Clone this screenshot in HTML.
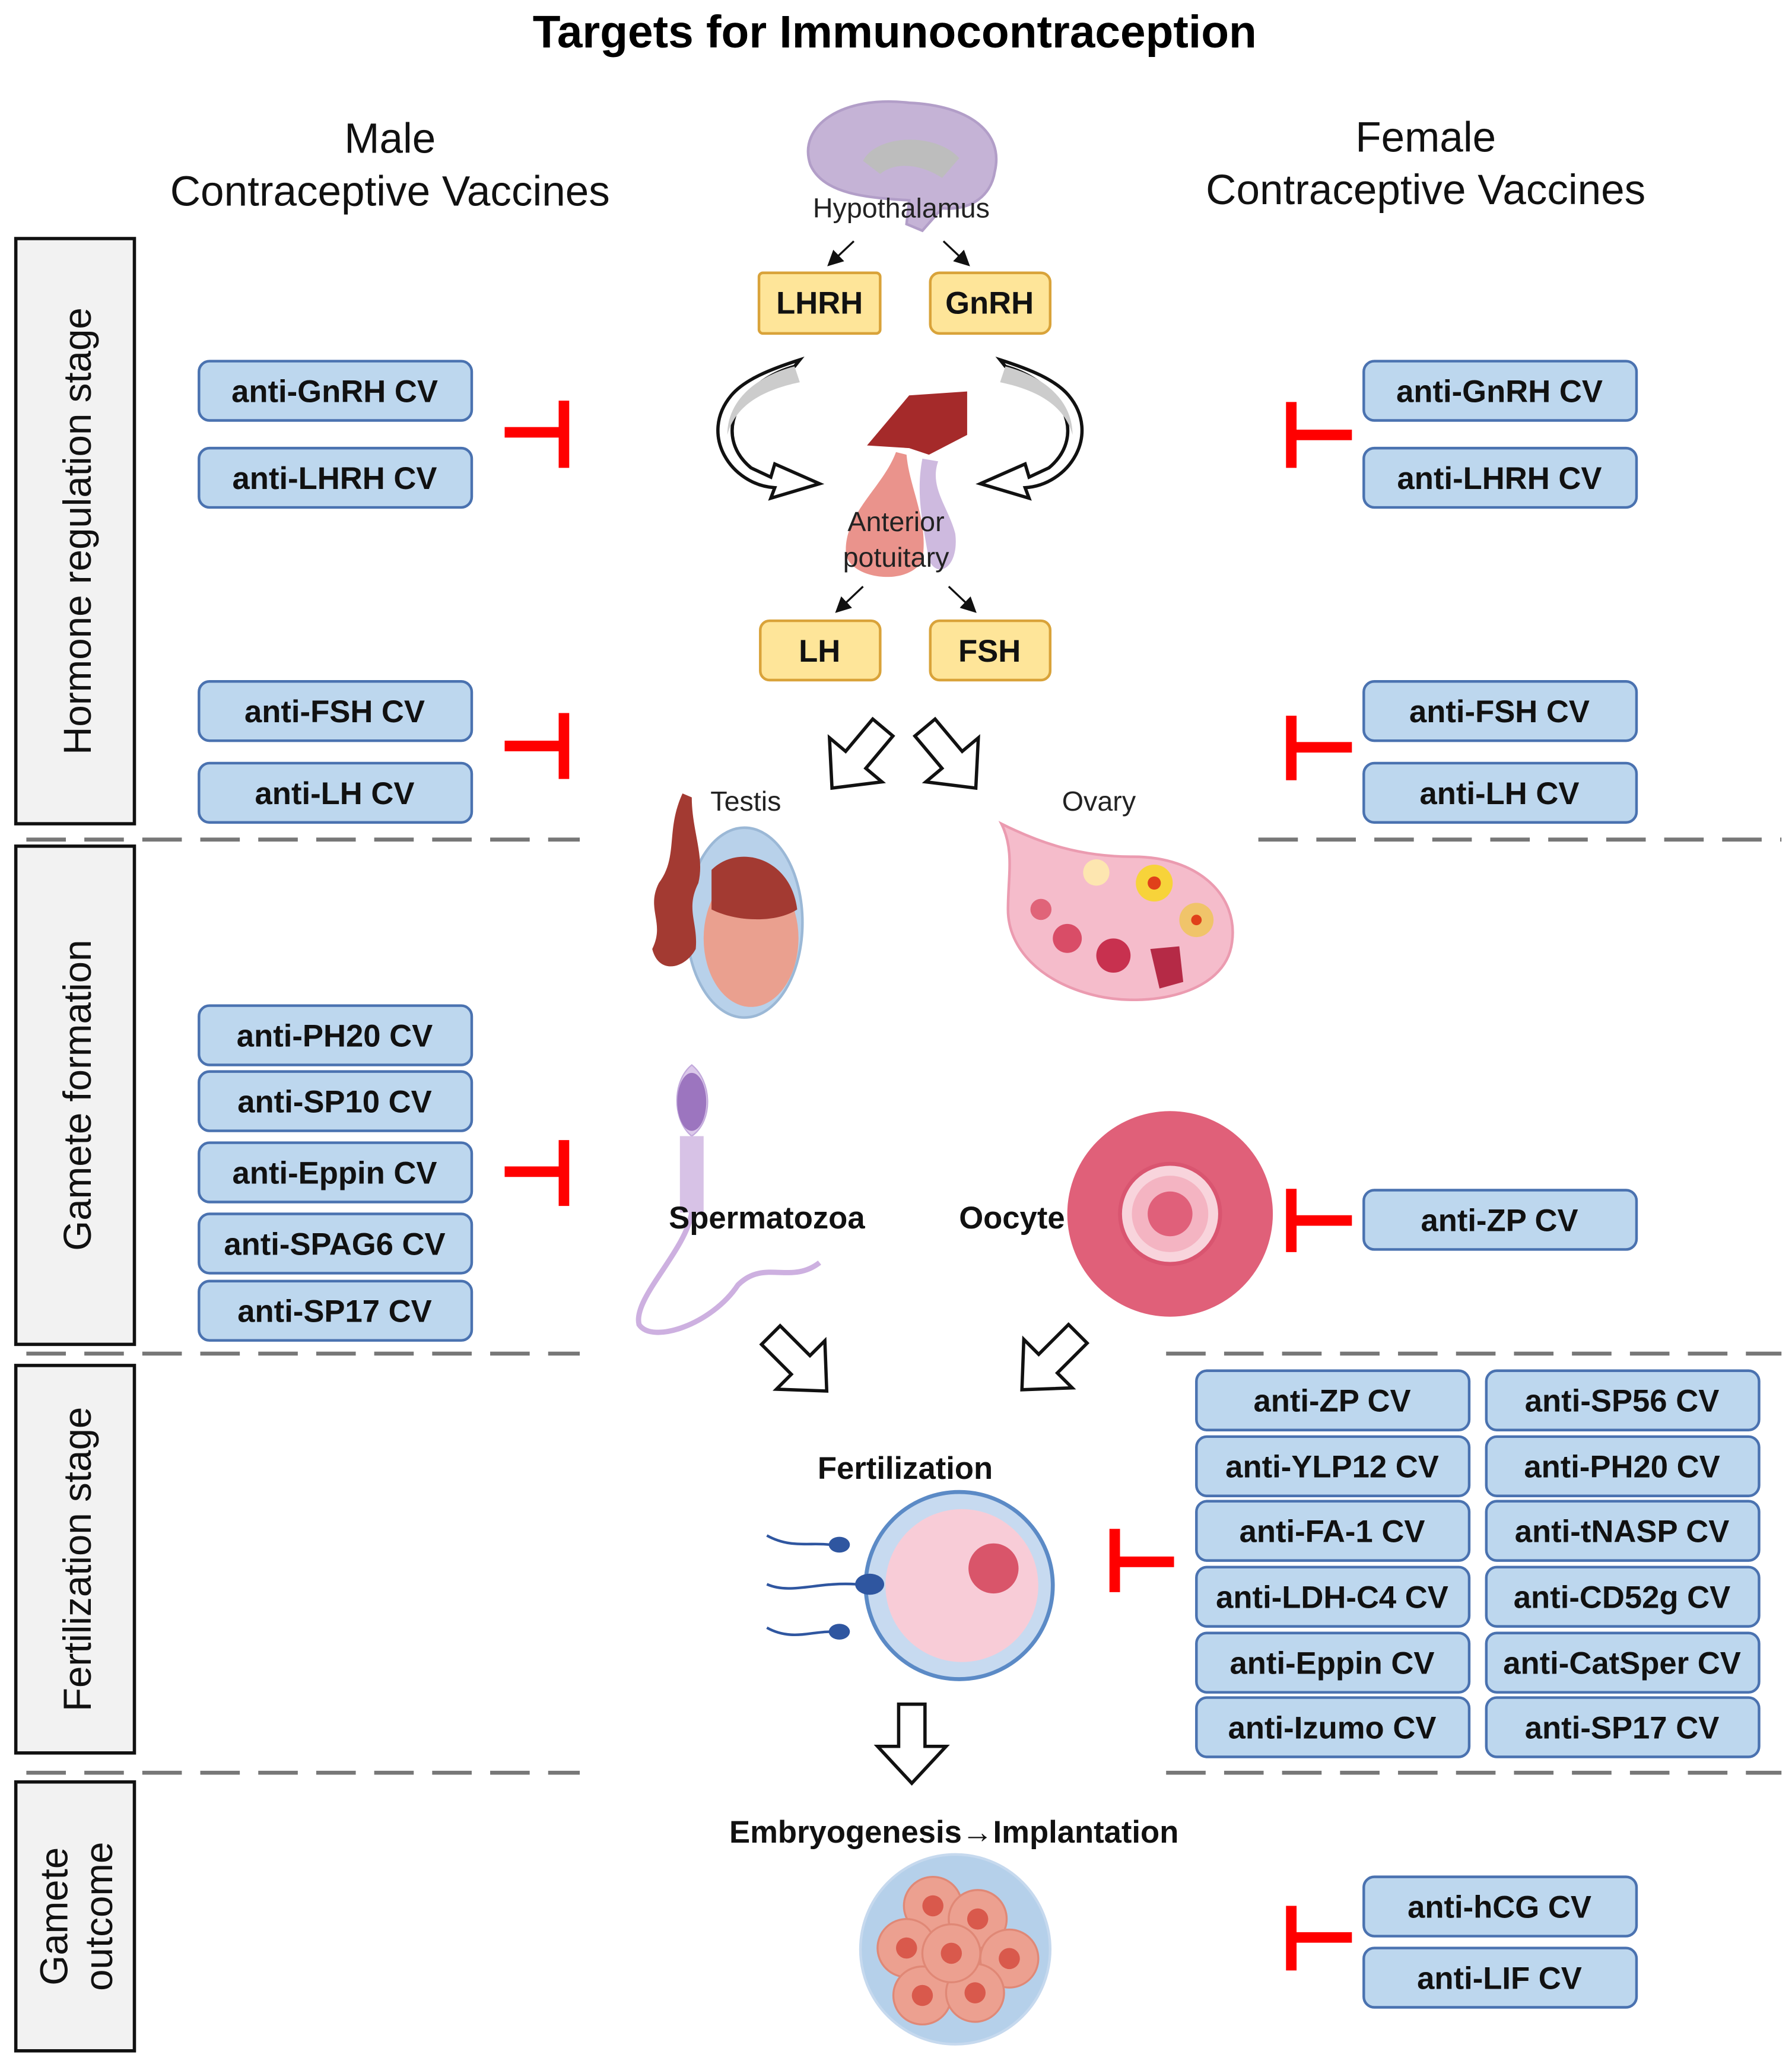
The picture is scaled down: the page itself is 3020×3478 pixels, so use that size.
<!DOCTYPE html>
<html><head><meta charset="utf-8"><style>
html,body{margin:0;padding:0;background:#fff;}
svg{display:block;}
text{font-family:"Liberation Sans",Arial,sans-serif;}
.b{font-weight:bold;font-size:23.7px;text-anchor:middle;fill:#111;}
.bx{fill:#bdd7ee;stroke:#4a72b0;stroke-width:2;}
.yb{fill:#fee599;stroke:#d9a33a;stroke-width:2;}
.st{fill:#f2f2f2;stroke:#111;stroke-width:2.5;}
.dash{stroke:#777;stroke-width:3;stroke-dasharray:30 14;}
.red{stroke:#f00;stroke-width:8;fill:none;}
.ba{fill:#fff;stroke:#111;stroke-width:2.5;stroke-linejoin:miter;}
.lbl{font-size:21px;text-anchor:middle;fill:#222;}
.sl{font-size:29.5px;text-anchor:middle;fill:#111;}
</style></head><body>
<svg width="3020" height="3478" viewBox="0 0 1360 1566" preserveAspectRatio="none" xmlns="http://www.w3.org/2000/svg">
<defs>
<marker id="ah" markerWidth="8" markerHeight="8" refX="6" refY="4" orient="auto"><path d="M0,0 L8,4 L0,8 z" fill="#111"/></marker>
<path id="barr" d="M-10,0 L10,0 L10,32 L26,32 L0,60 L-26,32 L-10,32 Z"/>
</defs>
<text x="679" y="36" style="font-size:34.5px;font-weight:bold;text-anchor:middle">Targets for Immunocontraception</text>
<text x="296" y="116" class="sl" style="font-size:32px">Male</text>
<text x="296" y="156" class="sl" style="font-size:32px">Contraceptive Vaccines</text>
<text x="1082" y="115" class="sl" style="font-size:32px">Female</text>
<text x="1082" y="155" class="sl" style="font-size:32px">Contraceptive Vaccines</text>

<rect class="st" x="12" y="181" width="90" height="444"/>
<text class="sl" transform="translate(69,403) rotate(-90)">Hormone regulation stage</text>
<rect class="st" x="12" y="642" width="90" height="378"/>
<text class="sl" transform="translate(69,831) rotate(-90)">Gamete formation</text>
<rect class="st" x="12" y="1036" width="90" height="294"/>
<text class="sl" transform="translate(69,1183) rotate(-90)">Fertilization stage</text>
<rect class="st" x="12" y="1352" width="90" height="204"/>
<text class="sl" transform="translate(51,1454) rotate(-90)">Gamete</text>
<text class="sl" transform="translate(85,1454) rotate(-90)">outcome</text>

<line class="dash" x1="20" y1="637" x2="440" y2="637"/><line class="dash" x1="955" y1="637" x2="1352" y2="637"/>
<line class="dash" x1="20" y1="1027" x2="440" y2="1027"/><line class="dash" x1="885" y1="1027" x2="1352" y2="1027"/>
<line class="dash" x1="20" y1="1345" x2="440" y2="1345"/><line class="dash" x1="885" y1="1345" x2="1352" y2="1345"/>

<g>
<rect class="bx" x="151" y="274" width="207" height="45" rx="8"/><text class="b" x="254" y="305">anti-GnRH CV</text>
<rect class="bx" x="151" y="340" width="207" height="45" rx="8"/><text class="b" x="254" y="371">anti-LHRH CV</text>
<rect class="bx" x="151" y="517" width="207" height="45" rx="8"/><text class="b" x="254" y="548">anti-FSH CV</text>
<rect class="bx" x="151" y="579" width="207" height="45" rx="8"/><text class="b" x="254" y="610">anti-LH CV</text>
<rect class="bx" x="151" y="763" width="207" height="45" rx="8"/><text class="b" x="254" y="794">anti-PH20 CV</text>
<rect class="bx" x="151" y="813" width="207" height="45" rx="8"/><text class="b" x="254" y="844">anti-SP10 CV</text>
<rect class="bx" x="151" y="867" width="207" height="45" rx="8"/><text class="b" x="254" y="898">anti-Eppin CV</text>
<rect class="bx" x="151" y="921" width="207" height="45" rx="8"/><text class="b" x="254" y="952">anti-SPAG6 CV</text>
<rect class="bx" x="151" y="972" width="207" height="45" rx="8"/><text class="b" x="254" y="1003">anti-SP17 CV</text>
</g>
<g>
<rect class="bx" x="1035" y="274" width="207" height="45" rx="8"/><text class="b" x="1138" y="305">anti-GnRH CV</text>
<rect class="bx" x="1035" y="340" width="207" height="45" rx="8"/><text class="b" x="1138" y="371">anti-LHRH CV</text>
<rect class="bx" x="1035" y="517" width="207" height="45" rx="8"/><text class="b" x="1138" y="548">anti-FSH CV</text>
<rect class="bx" x="1035" y="579" width="207" height="45" rx="8"/><text class="b" x="1138" y="610">anti-LH CV</text>
<rect class="bx" x="1035" y="903" width="207" height="45" rx="8"/><text class="b" x="1138" y="934">anti-ZP CV</text>
<rect class="bx" x="1035" y="1424" width="207" height="45" rx="8"/><text class="b" x="1138" y="1455">anti-hCG CV</text>
<rect class="bx" x="1035" y="1478" width="207" height="45" rx="8"/><text class="b" x="1138" y="1509">anti-LIF CV</text>
</g>
<g>
<rect class="bx" x="908" y="1040" width="207" height="45" rx="8"/><text class="b" x="1011" y="1071">anti-ZP CV</text>
<rect class="bx" x="908" y="1090" width="207" height="45" rx="8"/><text class="b" x="1011" y="1121">anti-YLP12 CV</text>
<rect class="bx" x="908" y="1139" width="207" height="45" rx="8"/><text class="b" x="1011" y="1170">anti-FA-1 CV</text>
<rect class="bx" x="908" y="1189" width="207" height="45" rx="8"/><text class="b" x="1011" y="1220">anti-LDH-C4 CV</text>
<rect class="bx" x="908" y="1239" width="207" height="45" rx="8"/><text class="b" x="1011" y="1270">anti-Eppin CV</text>
<rect class="bx" x="908" y="1288" width="207" height="45" rx="8"/><text class="b" x="1011" y="1319">anti-Izumo CV</text>
<rect class="bx" x="1128" y="1040" width="207" height="45" rx="8"/><text class="b" x="1231" y="1071">anti-SP56 CV</text>
<rect class="bx" x="1128" y="1090" width="207" height="45" rx="8"/><text class="b" x="1231" y="1121">anti-PH20 CV</text>
<rect class="bx" x="1128" y="1139" width="207" height="45" rx="8"/><text class="b" x="1231" y="1170">anti-tNASP CV</text>
<rect class="bx" x="1128" y="1189" width="207" height="45" rx="8"/><text class="b" x="1231" y="1220">anti-CD52g CV</text>
<rect class="bx" x="1128" y="1239" width="207" height="45" rx="8"/><text class="b" x="1231" y="1270">anti-CatSper CV</text>
<rect class="bx" x="1128" y="1288" width="207" height="45" rx="8"/><text class="b" x="1231" y="1319">anti-SP17 CV</text>
</g>

<path class="red" d="M383,328 H428 M428,304 V355"/>
<path class="red" d="M383,566 H428 M428,541 V591"/>
<path class="red" d="M383,889 H428 M428,865 V915"/>
<path class="red" d="M1026,330 H980 M980,305 V355"/>
<path class="red" d="M1026,567 H980 M980,543 V592"/>
<path class="red" d="M1026,926 H980 M980,902 V950"/>
<path class="red" d="M1026,1470 H980 M980,1446 V1495"/>
<path class="red" d="M891,1185 H846 M846,1160 V1208"/>

<path d="M615,125 C605,95 640,72 690,78 C735,80 762,100 755,130 C752,150 735,160 715,158 L700,175 L688,170 L690,152 C660,150 625,148 615,125 Z" fill="#c5b3d6" stroke="#b29ec8" stroke-width="2"/>
<path d="M655,122 C665,102 710,100 728,120 L715,135 C700,125 680,122 668,132 Z" fill="#bdbdbd"/>
<text class="lbl" x="684" y="165">Hypothalamus</text>
<line x1="648" y1="183" x2="630" y2="200" stroke="#111" stroke-width="1.5" marker-end="url(#ah)"/>
<line x1="716" y1="183" x2="734" y2="200" stroke="#111" stroke-width="1.5" marker-end="url(#ah)"/>
<rect class="yb" x="576" y="207" width="92" height="46" rx="3"/><text class="b" x="622" y="238">LHRH</text>
<rect class="yb" x="706" y="207" width="91" height="46" rx="7"/><text class="b" x="751" y="238">GnRH</text>

<path d="M603,278 C560,290 540,330 570,355 L585,362 L588,352 L622,367 L585,378 L588,370 C555,368 530,330 555,300 C565,288 585,280 607,273 Z" fill="#fff" stroke="#111" stroke-width="2.5"/>
<path d="M603,278 C572,286 552,305 552,330 C558,308 578,296 607,290 Z" fill="#ccc"/>
<path d="M763,278 C806,290 826,330 796,355 L781,362 L778,352 L744,367 L781,378 L778,370 C811,368 836,330 811,300 C801,288 781,280 759,273 Z" fill="#fff" stroke="#111" stroke-width="2.5"/>
<path d="M763,278 C794,286 814,305 814,330 C808,308 788,296 759,290 Z" fill="#ccc"/>

<path d="M658,338 L690,300 L734,297 L734,330 L705,345 L690,340 Z" fill="#a52a2a"/>
<path d="M680,343 C670,370 640,390 642,420 C645,440 690,445 700,425 C705,395 690,370 688,345 Z" fill="#e8877f" opacity="0.9"/>
<path d="M700,348 C695,375 700,395 705,425 C712,440 728,430 725,405 C720,385 705,370 712,350 Z" fill="#c9b3dc" opacity="0.9"/>
<text class="lbl" x="680" y="403">Anterior</text>
<text class="lbl" x="680" y="430">potuitary</text>
<line x1="655" y1="445" x2="636" y2="463" stroke="#111" stroke-width="1.5" marker-end="url(#ah)"/>
<line x1="720" y1="445" x2="739" y2="463" stroke="#111" stroke-width="1.5" marker-end="url(#ah)"/>
<rect class="yb" x="577" y="471" width="91" height="45" rx="7"/><text class="b" x="622" y="502">LH</text>
<rect class="yb" x="706" y="471" width="91" height="45" rx="7"/><text class="b" x="751" y="502">FSH</text>

<use href="#barr" class="ba" transform="translate(670,552) rotate(40)"/>
<use href="#barr" class="ba" transform="translate(702,552) rotate(-40)"/>
<use href="#barr" class="ba" transform="translate(585,1013) rotate(-45)"/>
<use href="#barr" class="ba" transform="translate(818,1012) rotate(45)"/>
<use href="#barr" class="ba" transform="translate(692,1293)"/>

<text class="lbl" x="566" y="615">Testis</text>
<ellipse cx="565" cy="700" rx="44" ry="72" fill="#b8d1ea" stroke="#9bb8d6" stroke-width="2"/>
<ellipse cx="570" cy="712" rx="36" ry="52" fill="#eaa08f"/>
<path d="M540,660 C560,640 600,650 605,690 C590,700 560,700 540,690 Z" fill="#a33a32"/>
<path d="M518,602 C505,630 515,650 500,670 C490,690 505,700 495,720 C500,740 520,735 528,720 C530,700 520,690 530,670 C535,650 525,630 525,605 Z" fill="#a33a32"/>

<text class="lbl" x="834" y="615">Ovary</text>
<path d="M760,625 C790,640 820,650 860,650 C910,650 940,680 935,715 C930,755 870,765 830,755 C790,745 765,720 765,690 C765,665 770,645 760,625 Z" fill="#f5bccb" stroke="#eb9bb0" stroke-width="2"/>
<circle cx="876" cy="670" r="14" fill="#f7d33a"/><circle cx="876" cy="670" r="5" fill="#e0401a"/>
<circle cx="908" cy="698" r="13" fill="#f0c46a"/><circle cx="908" cy="698" r="4" fill="#e0401a"/>
<circle cx="832" cy="662" r="10" fill="#fde6b0"/>
<circle cx="790" cy="690" r="8" fill="#e06479"/><circle cx="810" cy="712" r="11" fill="#d94d67"/>
<circle cx="845" cy="725" r="13" fill="#c8314f"/><path d="M873,720 L895,718 L898,745 L880,750 Z" fill="#b52a46"/>

<path d="M525,808 C540,820 542,850 525,862 C510,850 510,820 525,808 Z" fill="#dcc9ea" stroke="#c2a9dc"/>
<ellipse cx="525" cy="836" rx="11" ry="22" fill="#9c75bf"/>
<rect x="516" y="862" width="18" height="58" fill="#d7c2e6"/>
<path d="M525,920 C520,950 480,985 485,1005 C495,1020 540,1005 560,975 C580,955 600,975 622,958" fill="none" stroke="#cdb0e0" stroke-width="4"/>
<text x="582" y="932" class="b">Spermatozoa</text>

<circle cx="888" cy="921" r="78" fill="#e06079"/>
<circle cx="888" cy="921" r="38" fill="#f8d4dc" stroke="#d95570" stroke-width="3"/>
<circle cx="888" cy="921" r="29" fill="#f4b4c2"/>
<circle cx="888" cy="921" r="17" fill="#e0607a"/>
<text x="768" y="932" class="b">Oocyte</text>

<text x="687" y="1122" class="b">Fertilization</text>
<circle cx="728" cy="1203" r="71" fill="#c7daf0" stroke="#5b8ac6" stroke-width="3"/>
<circle cx="730" cy="1203" r="58" fill="#f8ccd7"/>
<circle cx="754" cy="1190" r="19" fill="#d9556a"/>
<g fill="none" stroke="#2f56a0" stroke-width="2">
<path d="M582,1165 C600,1175 615,1170 630,1172"/>
<path d="M582,1202 C600,1210 620,1200 650,1202"/>
<path d="M582,1235 C600,1245 615,1238 630,1238"/>
</g>
<ellipse cx="637" cy="1172" rx="8" ry="6" fill="#2f56a0"/>
<ellipse cx="660" cy="1202" rx="11" ry="8" fill="#2f56a0"/>
<ellipse cx="637" cy="1238" rx="8" ry="6" fill="#2f56a0"/>

<text x="724" y="1398" class="b">Embryogenesis→Implantation</text>
<circle cx="725" cy="1479" r="72" fill="#b5d0ea" stroke="#c6d9ee" stroke-width="2"/>
<g fill="#eca090" stroke="#e08876" stroke-width="1.5">
<circle cx="708" cy="1446" r="22"/><circle cx="742" cy="1456" r="22"/><circle cx="688" cy="1478" r="22"/>
<circle cx="766" cy="1486" r="22"/><circle cx="700" cy="1514" r="22"/><circle cx="740" cy="1512" r="22"/><circle cx="722" cy="1482" r="22"/>
</g>
<g fill="#d9594c">
<circle cx="708" cy="1446" r="8"/><circle cx="742" cy="1456" r="8"/><circle cx="688" cy="1478" r="8"/>
<circle cx="766" cy="1486" r="8"/><circle cx="700" cy="1514" r="8"/><circle cx="740" cy="1512" r="8"/><circle cx="722" cy="1482" r="8"/>
</g>
</svg>
</body></html>
